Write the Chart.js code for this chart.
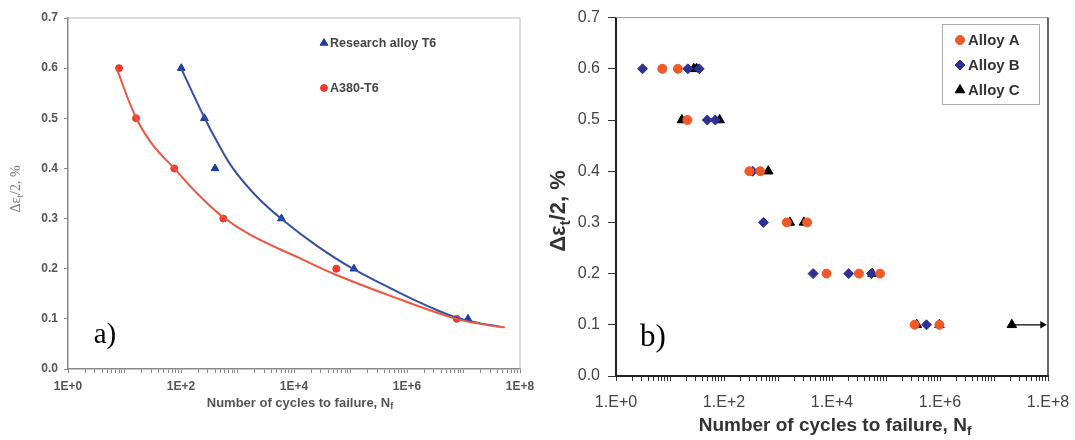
<!DOCTYPE html>
<html>
<head>
<meta charset="utf-8">
<script src="https://cdn.jsdelivr.net/npm/chart.js@4.4.1/dist/chart.umd.min.js"></script>
<style>
  html, body { margin: 0; padding: 0; background: #fff; }
  #wrap { position: relative; width: 1075px; height: 440px; }
  #boxA { position: absolute; left: 0; top: 0; width: 540px; height: 440px; }
  #boxB { position: absolute; left: 540px; top: 0; width: 535px; height: 440px; }
</style>
</head>
<body>
<div id="wrap">
  <div id="boxA"><canvas id="chartA"></canvas></div>
  <div id="boxB"><canvas id="chartB"></canvas></div>
</div>
<script>
/* ── panel a: test points ── */
const A380_N = [8, 16, 76, 560, 56000, 7.6e6];
const A380_S = [0.6, 0.5, 0.4, 0.3, 0.2, 0.1];
const RES_N  = [101, 260, 400, 6000, 115000, 1.2e7];
const RES_S  = [0.6, 0.5, 0.4, 0.3, 0.2, 0.1];

/* ── panel a: fitted curves ── */
const A380_FIT_N = [7.2, 16.2, 31.6, 76, 186, 525, 1660, 12600, 55000, 741000, 6.9e6, 2.0e7, 5.4e7];
const A380_FIT_S = [0.600, 0.500, 0.447, 0.400, 0.352, 0.305, 0.268, 0.221, 0.188, 0.139, 0.101, 0.090, 0.083];
const RES_FIT_N  = [100, 263, 427, 832, 2140, 6030, 25100, 110000, 741000, 2.5e6, 6.9e6, 2.0e7, 4.4e7];
const RES_FIT_S  = [0.600, 0.500, 0.455, 0.400, 0.345, 0.299, 0.246, 0.200, 0.152, 0.124, 0.104, 0.091, 0.0845];

/* ── panel b: three alloys ── */
const ALLOY_A_N = [7.2, 14, 21, 295, 468, 1450, 3470, 7940, 31600, 77600, 339000, 977000];
const ALLOY_A_S = [0.6, 0.6, 0.5, 0.4, 0.4, 0.3, 0.3, 0.2, 0.2, 0.2, 0.1, 0.1];
const ALLOY_B_N = [3.1, 21.4, 34.7, 49, 69, 339, 537, 4470, 20400, 53700, 562000];
const ALLOY_B_S = [0.6, 0.6, 0.6, 0.5, 0.5, 0.4, 0.3, 0.2, 0.2, 0.2, 0.1];
const ALLOY_C_N = [27.5, 31, 16.6, 83, 660, 1660, 3020, 56200, 372000, 977000, 2.14e7];
const ALLOY_C_S = [0.6, 0.6, 0.5, 0.5, 0.4, 0.3, 0.3, 0.2, 0.1, 0.1, 0.1];
const RUNOUT_N  = [2.14e7, 7.9e7];   // run-out arrow
const RUNOUT_S  = [0.1, 0.1];

/* ── axis ticks ── */
const DECADES   = [1, 1e2, 1e4, 1e6, 1e8];
const X_LABEL_A = ['1E+0', '1E+2', '1E+4', '1E+6', '1E+8'];
const X_LABEL_B = ['1.E+0', '1.E+2', '1.E+4', '1.E+6', '1.E+8'];
const Y_TICKS   = [0, 0.1, 0.2, 0.3, 0.4, 0.5, 0.6, 0.7];

const MINOR = [];
for (let k = 0; k < 8; k++) for (let m = 1; m <= 9; m++) MINOR.push(m * Math.pow(10, k));
MINOR.push(1e8);

const pts = (xs, ys) => xs.map((x, i) => ({ x, y: ys[i] }));
const decIdx = v => DECADES.findIndex(d => Math.abs(v - d) / d < 1e-6);

/* ── text helper: pieces with optional subscript ── */
function drawParts(ctx, t) {
  ctx.save();
  ctx.translate(t.x, t.y);
  if (t.rot) ctx.rotate(t.rot);
  ctx.fillStyle = t.color;
  ctx.textAlign = 'left';
  ctx.textBaseline = 'alphabetic';
  const sub = t.size * 0.7;
  const fnt = s => `${t.weight || 'normal'} ${s}px ${t.family}`;
  const w = t.parts.map(p => { ctx.font = fnt(p[1] ? sub : t.size); return ctx.measureText(p[0]).width; });
  let x = -w.reduce((a, b) => a + b, 0) / 2;
  const base = t.size * 0.35;
  t.parts.forEach((p, i) => {
    ctx.font = fnt(p[1] ? sub : t.size);
    ctx.fillText(p[0], x, p[1] ? base + t.size * 0.22 : base);
    x += w[i];
  });
  ctx.restore();
}

const textPlugin = {
  id: 'texts',
  afterDraw(chart, args, opts) { opts.list.forEach(t => drawParts(chart.ctx, t)); },
};

const framePlugin = {
  id: 'frame',
  beforeDatasetsDraw(chart, args, opts) {
    const { ctx, chartArea: a } = chart;
    ctx.save();
    ctx.lineWidth = opts.topWidth;
    ctx.strokeStyle = opts.topColor;
    ctx.beginPath(); ctx.moveTo(a.left, a.top); ctx.lineTo(a.right, a.top); ctx.stroke();
    ctx.lineWidth = opts.rightWidth;
    ctx.strokeStyle = opts.rightColor;
    ctx.beginPath(); ctx.moveTo(a.right, a.top); ctx.lineTo(a.right, a.bottom); ctx.stroke();
    ctx.restore();
  },
};

const keyPlugin = {
  id: 'key',
  afterDraw(chart, args, opts) {
    const ctx = chart.ctx;
    ctx.save();
    if (opts.box) {
      const b = opts.box;
      ctx.fillStyle = '#fff';
      ctx.fillRect(b.x, b.y, b.w, b.h);
      ctx.strokeStyle = b.color;
      ctx.lineWidth = 1;
      ctx.strokeRect(b.x + 0.5, b.y + 0.5, b.w, b.h);
    }
    opts.items.forEach(it => {
      const ds = chart.data.datasets[it.ds];
      ctx.fillStyle = ds.backgroundColor;
      ctx.strokeStyle = ds.borderColor;
      ctx.lineWidth = 1;
      Chart.helpers.drawPoint(ctx, { pointStyle: ds.pointStyle, radius: it.r, rotation: 0, borderWidth: 1 }, opts.markX, it.y);
      ctx.fillStyle = opts.color;
      ctx.font = opts.font;
      ctx.textAlign = 'left';
      ctx.textBaseline = 'middle';
      ctx.fillText(ds.label, opts.textX, it.y + 1);
    });
    ctx.restore();
  },
};

/* ── scales ── */
function xScale(labels, s) {
  return {
    type: 'logarithmic', min: 1, max: 1e8,
    afterBuildTicks: sc => { sc.ticks = MINOR.map(v => ({ value: v })); },
    afterFit: sc => { sc.height = s.height; sc.paddingLeft = 0; sc.paddingRight = 0; },
    ticks: {
      autoSkip: false, maxRotation: 0, padding: s.pad, color: s.color,
      font: { family: 'Liberation Sans', size: s.size, weight: s.weight },
      callback: v => { const i = decIdx(v); return i >= 0 ? labels[i] : ''; },
    },
    grid: {
      drawOnChartArea: false, drawTicks: true, tickLength: s.tickLen,
      tickColor: s.tickColor, tickWidth: 1,
    },
    border: { display: true, color: s.axisColor, width: s.axisWidth },
  };
}
function yScale(s) {
  return {
    type: 'linear', min: 0, max: 0.7,
    afterBuildTicks: sc => { sc.ticks = Y_TICKS.map(v => ({ value: v })); },
    afterFit: sc => { sc.width = s.width; },
    ticks: {
      padding: s.pad, color: s.color,
      font: { family: 'Liberation Sans', size: s.size, weight: s.weight },
      callback: v => v.toFixed(1),
    },
    grid: { drawOnChartArea: false, drawTicks: true, tickLength: s.tickLen, tickColor: s.tickColor, tickWidth: 1 },
    border: { display: true, color: s.axisColor, width: s.axisWidth },
  };
}

/* ── panel a ── */
new Chart(document.getElementById('chartA'), {
  type: 'scatter',
  data: {
    datasets: [
      { label: 'A380-T6 fit', data: pts(A380_FIT_N, A380_FIT_S), showLine: true, pointRadius: 0,
        borderColor: '#f0563f', borderWidth: 2, tension: 0.4 },
      { label: 'Research alloy T6 fit', data: pts(RES_FIT_N, RES_FIT_S), showLine: true, pointRadius: 0,
        borderColor: '#3450a3', borderWidth: 2, tension: 0.4 },
      { label: 'A380-T6', data: pts(A380_N, A380_S), pointStyle: 'circle', pointRadius: 3.5,
        backgroundColor: '#f2372b', borderColor: '#f2372b', borderWidth: 1 },
      { label: 'Research alloy T6', data: pts(RES_N, RES_S), pointStyle: 'triangle', pointRadius: 4.5,
        backgroundColor: '#1c3c9c', borderColor: '#1c3c9c', borderWidth: 1 },
    ],
  },
  options: {
    animation: false,
    responsive: true,
    maintainAspectRatio: false,
    layout: { padding: { top: 18, right: 20, left: 0, bottom: 0 } },
    scales: {
      x: xScale(X_LABEL_A, { height: 71, pad: 6, color: '#555', size: 12, weight: 'bold',
        tickLen: 4, tickColor: '#888', axisColor: '#888', axisWidth: 1.5 }),
      y: yScale({ width: 68, pad: 6, color: '#555', size: 12, weight: 'bold',
        tickLen: 4, tickColor: '#888', axisColor: '#888', axisWidth: 1.5 }),
    },
    plugins: {
      legend: { display: false },
      tooltip: { enabled: false },
      frame: { topColor: '#bbb', topWidth: 1, rightColor: '#bbb', rightWidth: 1 },
      key: {
        markX: 324, textX: 330, color: '#444', font: 'bold 12.5px "Liberation Sans"',
        items: [{ ds: 3, y: 43, r: 4.5 }, { ds: 2, y: 88, r: 3.5 }],
      },
      texts: {
        list: [
          { parts: [['Number of cycles to failure, N', false], ['f', true]], x: 300, y: 402,
            size: 13, weight: 'bold', family: '"Liberation Sans"', color: '#555' },
          { parts: [['\u0394\u03b5', false], ['t', true], ['/2, %', false]], x: 15, y: 189, rot: -Math.PI / 2,
            size: 14, family: '"Liberation Serif"', color: '#777' },
          { parts: [['a)', false]], x: 105, y: 333, size: 29, family: '"Liberation Serif"', color: '#000' },
        ],
      },
    },
  },
  plugins: [framePlugin, keyPlugin, textPlugin],
});

/* ── panel b ── */
new Chart(document.getElementById('chartB'), {
  type: 'scatter',
  data: {
    datasets: [
      { label: 'Alloy A', data: pts(ALLOY_A_N, ALLOY_A_S), pointStyle: 'circle', pointRadius: 4.5,
        backgroundColor: '#f05a28', borderColor: '#f05a28', borderWidth: 1 },
      { label: 'Alloy B', data: pts(ALLOY_B_N, ALLOY_B_S), pointStyle: 'rectRot', pointRadius: 5,
        backgroundColor: '#2e3192', borderColor: '#2e3192', borderWidth: 1 },
      { label: 'Alloy C', data: pts(ALLOY_C_N, ALLOY_C_S), pointStyle: 'triangle', pointRadius: 5.5,
        backgroundColor: '#000', borderColor: '#000', borderWidth: 1 },
      { label: 'run-out', data: pts(RUNOUT_N, RUNOUT_S), showLine: true, borderColor: '#000', borderWidth: 1.3,
        pointStyle: 'triangle', pointRadius: [0, 3], pointRotation: 90, backgroundColor: '#000' },
    ],
  },
  options: {
    animation: false,
    responsive: true,
    maintainAspectRatio: false,
    layout: { padding: { top: 16, right: 27, left: 0, bottom: 0 } },
    scales: {
      x: xScale(X_LABEL_B, { height: 64, pad: 12, color: '#444', size: 16, weight: 'normal',
        tickLen: 5, tickColor: '#333', axisColor: '#222', axisWidth: 2 }),
      y: yScale({ width: 76, pad: 8, color: '#444', size: 16, weight: 'normal',
        tickLen: 8, tickColor: '#333', axisColor: '#222', axisWidth: 2 }),
    },
    plugins: {
      legend: { display: false },
      tooltip: { enabled: false },
      frame: { topColor: '#999', topWidth: 1, rightColor: '#333', rightWidth: 1.5 },
      key: {
        box: { x: 402, y: 24, w: 97, h: 80, color: '#aaa' },
        markX: 420, textX: 428, color: '#333', font: 'bold 15px "Liberation Sans"',
        items: [{ ds: 0, y: 40, r: 4.5 }, { ds: 1, y: 65, r: 5 }, { ds: 2, y: 90, r: 5.5 }],
      },
      texts: {
        list: [
          { parts: [['Number of cycles to failure, N', false], ['f', true]], x: 295, y: 424,
            size: 19, weight: 'bold', family: '"Liberation Sans"', color: '#333' },
          { parts: [['\u0394\u03b5', false], ['t', true], ['/2, %', false]], x: 17, y: 211, rot: -Math.PI / 2,
            size: 22, weight: 'bold', family: '"Liberation Sans"', color: '#333' },
          { parts: [['b)', false]], x: 113, y: 335, size: 31, family: '"Liberation Serif"', color: '#000' },
        ],
      },
    },
  },
  plugins: [framePlugin, keyPlugin, textPlugin],
});
</script>
</body>
</html>
